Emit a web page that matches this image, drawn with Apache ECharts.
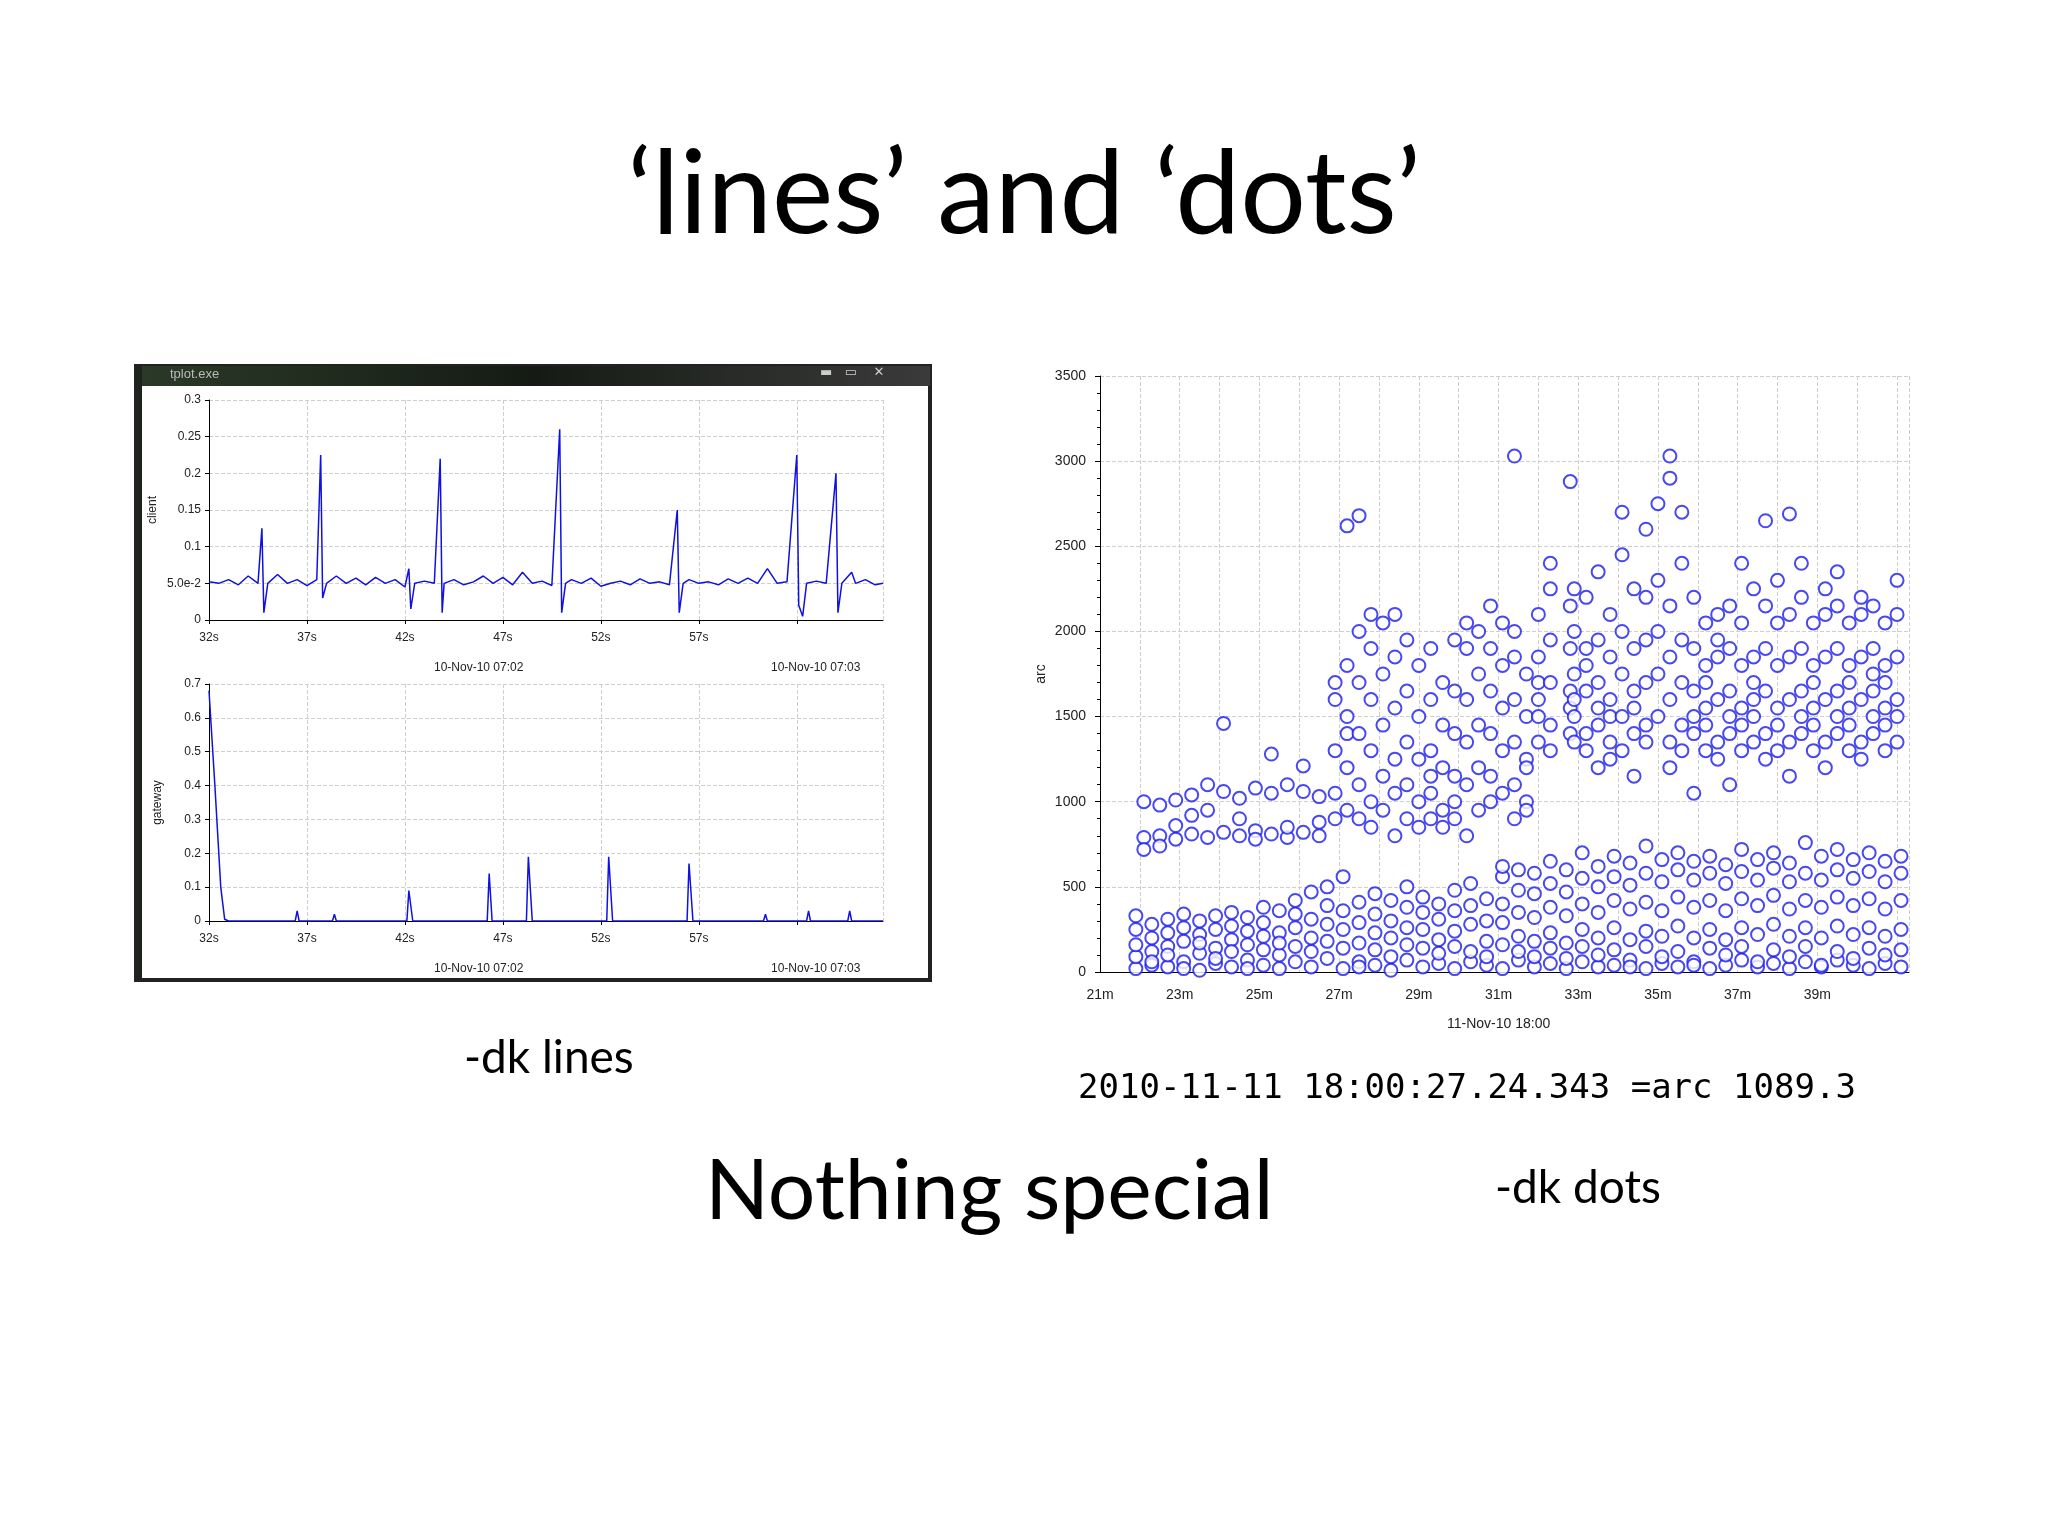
<!DOCTYPE html>
<html>
<head>
<meta charset="utf-8">
<script src="https://cdn.jsdelivr.net/npm/echarts@6/dist/echarts.min.js"></script>
<style>
  html, body { margin: 0; padding: 0; background: #fff; }
  #main { width: 2048px; height: 1536px; }
</style>
</head>
<body>
<div id="main"></div>
<script>
// client: [second, value]
var clientData = [
  [32,0.052],[32.5,0.05],[33,0.055],[33.5,0.048],[34,0.06],[34.5,0.05],[34.7,0.125],[34.8,0.01],[35,0.05],[35.5,0.062],
  [36,0.05],[36.5,0.055],[37,0.047],[37.5,0.055],[37.7,0.225],[37.8,0.03],[38,0.05],[38.5,0.06],[39,0.05],[39.5,0.057],
  [40,0.048],[40.5,0.058],[41,0.05],[41.5,0.055],[42,0.045],[42.2,0.07],[42.3,0.015],[42.5,0.05],[43,0.053],[43.5,0.05],
  [43.8,0.22],[43.9,0.01],[44,0.05],[44.5,0.055],[45,0.048],[45.5,0.052],[46,0.06],[46.5,0.05],[47,0.058],[47.5,0.048],
  [48,0.065],[48.5,0.05],[49,0.053],[49.5,0.047],[49.9,0.26],[50,0.01],[50.2,0.05],[50.5,0.055],[51,0.05],[51.5,0.057],
  [52,0.046],[52.5,0.05],[53,0.053],[53.5,0.048],[54,0.056],[54.5,0.05],[55,0.052],[55.5,0.048],[55.9,0.15],[56,0.01],
  [56.2,0.05],[56.5,0.055],[57,0.05],[57.5,0.052],[58,0.048],[58.5,0.056],[59,0.05],[59.5,0.057],[60,0.05],[60.5,0.07],
  [61,0.05],[61.5,0.052],[62,0.225],[62.1,0.02],[62.3,0.005],[62.5,0.05],[63,0.053],[63.5,0.05],[64,0.2],[64.1,0.01],
  [64.3,0.05],[64.8,0.065],[65,0.05],[65.5,0.055],[66,0.048],[66.4,0.05]
];
// gateway: [second, value]
var gatewayData = [
  [32,0.68],[32.3,0.4],[32.6,0.1],[32.8,0.005],[33,0],[36.4,0],[36.5,0.03],[36.6,0],[38.3,0],[38.4,0.02],[38.5,0],
  [42.1,0],[42.2,0.09],[42.4,0],[46.2,0],[46.3,0.14],[46.45,0],[48.2,0],[48.3,0.19],[48.5,0],[52.3,0],[52.4,0.19],[52.6,0],
  [56.4,0],[56.5,0.17],[56.7,0],[60.3,0],[60.4,0.02],[60.5,0],[62.5,0],[62.6,0.03],[62.7,0],[64.6,0],[64.7,0.03],[64.8,0],[66.4,0]
];
var lastSecondLabel = 57;
var lastMinuteLabel = 39;

// arc dots: each row is [minute, value, value, ...]
var arcLowRows = [
  [21.9,20,90,160,250,330],[22.3,40,120,200,280,60],[22.7,30,150,230,310,100],[23.1,60,180,260,340,20],
  [23.5,10,110,220,300,170],[23.9,50,140,250,330,80],[24.3,30,190,270,350,120],[24.7,70,160,240,320,20],
  [25.1,40,130,210,290,380],[25.5,20,100,230,360,170],[25.9,60,150,260,340,420],[26.3,30,120,200,310,470],
  [26.7,80,180,280,390,500],[27.1,20,140,250,360,560],[27.5,60,170,290,410,30],[27.9,40,130,230,340,460],
  [28.3,10,200,300,420,90],[28.7,70,160,260,380,500],[29.1,30,140,250,350,440],[29.5,50,190,310,400,110],
  [29.9,20,150,240,360,480],[30.3,60,120,280,390,520],[30.7,40,180,300,430,90],[31.1,20,160,290,400,560,620],
  [31.5,70,210,350,480,120,600],[31.9,30,180,320,460,580,90],[32.3,50,230,380,520,140,650],[32.7,20,170,330,470,600,80],
  [33.1,60,250,400,550,150,700],[33.5,30,200,350,500,620,100],[33.9,40,260,420,560,130,680],[34.3,70,190,370,510,640,30],
  [34.7,20,240,410,580,150,740],[35.1,50,210,360,530,660,90],[35.5,30,270,440,600,120,700],[35.9,60,200,380,540,650,40],
  [36.3,20,250,420,580,140,680],[36.7,40,190,360,520,630,100],[37.1,70,260,430,590,150,720],[37.5,30,220,390,540,660,60],
  [37.9,50,280,450,610,130,700],[38.3,20,210,370,530,640,90],[38.7,60,260,420,580,150,760],[39.1,30,200,380,540,680,40],
  [39.5,70,270,440,600,120,720],[39.9,40,220,390,550,660,80],[40.3,20,260,430,590,140,700],[40.7,50,210,370,530,650,100],
  [41.1,30,250,420,580,130,680]
];
var arcHighRows = [
  [22.1,790,1000,720],[22.5,800,980,740],[22.9,780,1010,860],[23.3,810,1040,920],[23.7,790,1100,950],
  [24.1,820,1060,1460],[24.5,800,1020,900],[24.9,830,1080,780],[25.3,810,1050,1280],[25.7,790,1100,850],
  [26.1,820,1060,1210],[26.5,800,1030,880],[26.9,1050,1300,1600,900,1700],[27.2,1200,1500,1800,950,2620,1400],
  [27.5,1100,1400,1700,2000,900,2680],[27.8,1300,1600,1900,1000,2100,850],[28.1,1150,1450,1750,2050,950],
  [28.4,1250,1550,1850,1050,2100,800],[28.7,1100,1350,1650,1950,900],[29.0,1000,1250,1500,1800,850],
  [29.3,1050,1300,1600,1150,1900,900],[29.6,950,1200,1450,1700,850],[29.9,1000,1150,1400,1650,1950,900],
  [30.2,1100,1350,1600,1900,2050,800],[30.5,1200,1450,1750,2000,950],[30.8,1150,1400,1650,1900,2150,1000],
  [31.1,1050,1300,1550,1800,2050],[31.4,1100,1350,1600,1850,900,2000,3030],[31.7,1000,1250,1500,1750,950,1200],
  [32.0,1350,1600,1850,2100,1500,1700],[32.3,1450,1700,1950,2250,2400,1300],[32.8,1400,1650,1900,2150,1550,2880],
  [32.9,1500,1750,2000,2250,1350,1600],[33.2,1400,1650,1900,2200,1300,1800],[33.5,1450,1700,1950,2350,1550,1200],
  [33.8,1350,1600,1850,2100,1500,1250],[34.1,1500,1750,2000,2450,1300,2700],[34.4,1400,1650,1900,2250,1550,1150],
  [34.7,1450,1700,1950,2600,2200,1350],[35.0,1500,1750,2000,2300,2750],[35.3,1350,1600,1850,2150,2900,1200,3030],
  [35.6,1450,1700,1950,2400,2700,1300],[35.9,1400,1650,1900,2200,1500,1050],[36.2,1300,1550,1800,2050,1450,1700],
  [36.5,1350,1600,1850,2100,1250,1950],[36.8,1400,1650,1900,2150,1500,1100],[37.1,1300,1550,1800,2050,2400,1450],
  [37.4,1350,1600,1850,2250,1500,1700],[37.7,1400,1650,1900,2150,2650,1250],[38.0,1300,1550,1800,2050,2300,1450],
  [38.3,1350,1600,1850,2100,1150,2690],[38.6,1400,1650,1900,2200,2400,1500],[38.9,1300,1550,1800,2050,1450,1700],
  [39.2,1350,1600,1850,2100,2250,1200],[39.5,1400,1650,1900,2150,1500,2350],[39.8,1300,1550,1800,2050,1450,1700],
  [40.1,1350,1600,1850,2100,2200,1250],[40.4,1400,1650,1900,2150,1500,1750],[40.7,1300,1550,1800,2050,1450,1700],
  [41.0,1350,1600,1850,2100,2300,1500]
];

function rowsToPoints(rows) {
  var pts = [];
  rows.forEach(function (r) {
    for (var i = 1; i < r.length; i++) pts.push([r[0], r[i]]);
  });
  return pts;
}
function shift(data) {
  return data.map(function (d) { return [d[0] - 32, d[1]]; });
}
var arcPoints = rowsToPoints(arcLowRows).concat(rowsToPoints(arcHighRows));

var small = { fontFamily: 'Liberation Sans', fontSize: 12, color: '#222' };
var dashed = { show: true, lineStyle: { color: '#cfcfcf', type: 'dashed', width: 1 } };
var blackAxis = { lineStyle: { color: '#000', width: 1 } };

function secAxis(gi) {
  return {
    type: 'value', gridIndex: gi, min: 0, max: 34.4, interval: 5,
    axisLine: blackAxis, axisTick: { show: true, length: 4, lineStyle: { color: '#000' } },
    splitLine: dashed,
    axisLabel: Object.assign({ formatter: function (v) { return (v + 32 <= lastSecondLabel) ? (v + 32) + 's' : ''; }, showMaxLabel: false, margin: 12 }, small)
  };
}

var chart = echarts.init(document.getElementById('main'));
chart.setOption({
  animation: false,
  backgroundColor: '#fff',
  grid: [
    { left: 209, top: 400, width: 674, height: 220 },
    { left: 209, top: 684, width: 674, height: 237 },
    { left: 1100, top: 376, width: 809, height: 596 }
  ],
  xAxis: [
    secAxis(0),
    secAxis(1),
    {
      type: 'value', gridIndex: 2, min: 21, max: 41.3, interval: 1,
      axisLine: blackAxis, axisTick: { show: false },
      splitLine: dashed,
      axisLabel: Object.assign({}, small, { fontSize: 14, margin: 16, showMaxLabel: false,
        formatter: function (v) { return (v % 2 === 1 && v <= lastMinuteLabel) ? v + 'm' : ''; } })
    }
  ],
  yAxis: [
    {
      type: 'value', gridIndex: 0, min: 0, max: 0.3, interval: 0.05,
      name: 'client', nameLocation: 'middle', nameGap: 50, nameRotate: 90, nameTextStyle: small,
      axisLine: { show: true, lineStyle: { color: '#000' } }, axisTick: { show: true, length: 4 },
      splitLine: dashed,
      axisLabel: Object.assign({ formatter: function (v) { return Math.abs(v - 0.05) < 1e-9 ? '5.0e-2' : String(+v.toFixed(2)); } }, small)
    },
    {
      type: 'value', gridIndex: 1, min: 0, max: 0.7, interval: 0.1,
      name: 'gateway', nameLocation: 'middle', nameGap: 45, nameRotate: 90, nameTextStyle: small,
      axisLine: { show: true, lineStyle: { color: '#000' } }, axisTick: { show: true, length: 4 },
      splitLine: dashed,
      axisLabel: Object.assign({ formatter: function (v) { return String(+v.toFixed(1)); } }, small)
    },
    {
      type: 'value', gridIndex: 2, min: 0, max: 3500, interval: 500,
      name: 'arc', nameLocation: 'middle', nameGap: 52, nameRotate: 90, nameTextStyle: Object.assign({}, small, { fontSize: 14 }),
      axisLine: { show: true, lineStyle: { color: '#000' } }, axisTick: { show: true, length: 5 },
      minorTick: { show: true, splitNumber: 5, length: 3 },
      splitLine: dashed,
      axisLabel: Object.assign({}, small, { fontSize: 14, margin: 14, formatter: function (v) { return String(v); } })
    }
  ],
  series: [
    { type: 'line', xAxisIndex: 0, yAxisIndex: 0, data: shift(clientData), showSymbol: false,
      lineStyle: { color: '#1010e0', width: 1.5 } },
    { type: 'line', xAxisIndex: 1, yAxisIndex: 1, data: shift(gatewayData), showSymbol: false,
      lineStyle: { color: '#1010e0', width: 1.5 } },
    { type: 'scatter', xAxisIndex: 2, yAxisIndex: 2, data: arcPoints, symbol: 'emptyCircle', symbolSize: 13,
      itemStyle: { color: '#1a1aee', borderColor: '#1a1aee', borderWidth: 1.5 } }
  ],
  graphic: [
    // tplot window frame
    { type: 'rect', z: -10, shape: { x: 136, y: 366, width: 794, height: 614 },
      style: { fill: '#fff', stroke: '#222', lineWidth: 4 } },
    { type: 'rect', z: -9, shape: { x: 136, y: 366, width: 794, height: 20 },
      style: { fill: new echarts.graphic.LinearGradient(0, 0, 1, 0, [
        { offset: 0, color: '#2b3a28' }, { offset: 0.5, color: '#151b14' }, { offset: 1, color: '#3a3a3a' }]) } },
    { type: 'rect', z: -9, shape: { x: 136, y: 366, width: 6, height: 614 }, style: { fill: '#1c241b' } },
    { type: 'text', left: 170, top: 368, style: { text: 'tplot.exe', fill: '#bbb', font: '13px Liberation Sans' } },
    { type: 'text', left: 820, top: 366, style: { text: '▬   ▭    ✕', fill: '#ccc', font: '13px DejaVu Sans' } },
    { type: 'text', left: 434, top: 662, style: { text: '10-Nov-10 07:02', fill: '#222', font: '12px Liberation Sans' } },
    { type: 'text', left: 771, top: 662, style: { text: '10-Nov-10 07:03', fill: '#222', font: '12px Liberation Sans' } },
    { type: 'text', left: 434, top: 963, style: { text: '10-Nov-10 07:02', fill: '#222', font: '12px Liberation Sans' } },
    { type: 'text', left: 771, top: 963, style: { text: '10-Nov-10 07:03', fill: '#222', font: '12px Liberation Sans' } },
    { type: 'text', left: 1447, top: 1017, style: { text: '11-Nov-10 18:00', fill: '#222', font: '14px Liberation Sans' } },
    // slide texts
    { type: 'text', left: 'center', top: 138, style: { text: '\u2018lines\u2019 and \u2018dots\u2019', fill: '#000', font: '116px Lato' } },
    { type: 'text', left: 464, top: 1035, style: { text: '-dk lines', fill: '#000', font: '46px Lato' } },
    { type: 'text', left: 1078, top: 1072, style: { text: '2010-11-11 18:00:27.24.343 =arc 1089.3', fill: '#000', font: '34px DejaVu Sans Mono' } },
    { type: 'text', left: 705, top: 1150, style: { text: 'Nothing special', fill: '#000', font: '84px Lato' } },
    { type: 'text', left: 1495, top: 1165, style: { text: '-dk dots', fill: '#000', font: '46px Lato' } }
  ]
});
</script>
</body>
</html>
